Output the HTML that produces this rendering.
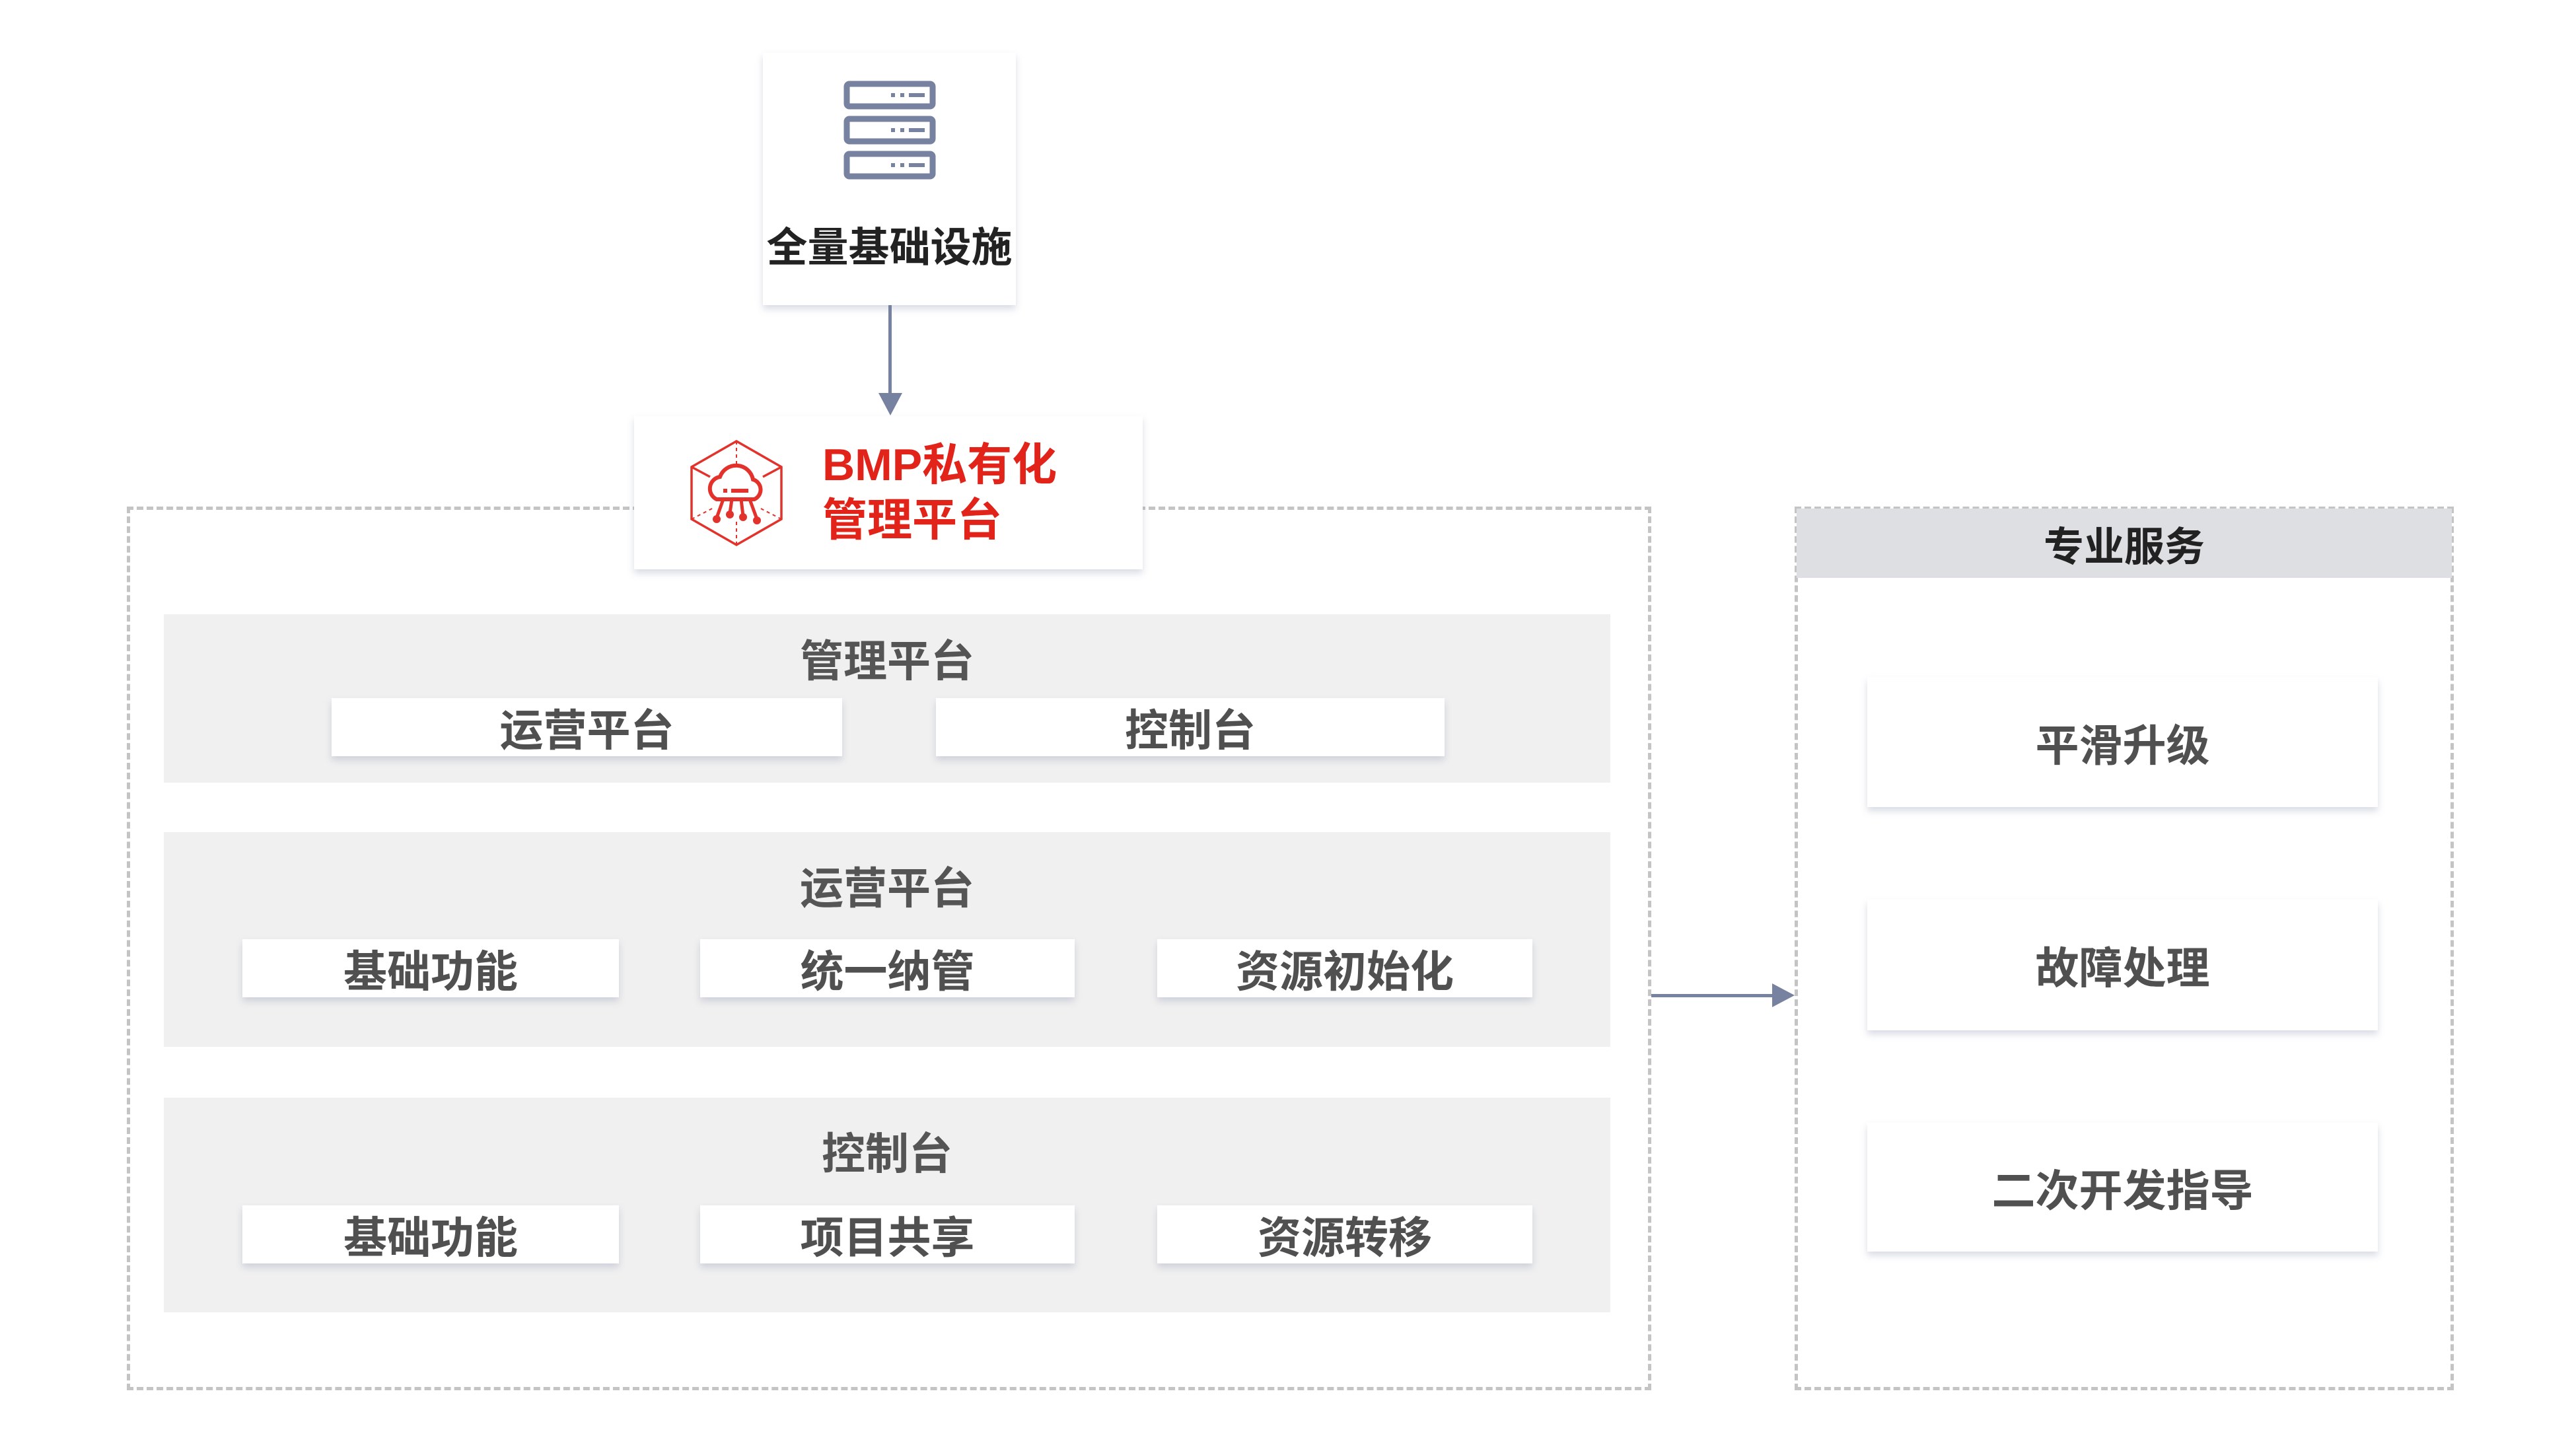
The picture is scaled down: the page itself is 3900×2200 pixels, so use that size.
<!DOCTYPE html>
<html><head><meta charset="utf-8"><style>
*{margin:0;padding:0;box-sizing:border-box}
body{width:3900px;height:2200px;background:#fff;position:relative;overflow:hidden;font-family:"Liberation Sans","Noto Sans CJK SC",sans-serif}
.a{position:absolute}
.card{position:absolute;background:#fff;box-shadow:0 6px 10px rgba(120,130,160,.28);display:flex;align-items:center;justify-content:center;color:#505050;font-size:66px;font-weight:bold}
.band{position:absolute;left:248px;width:2190px;background:#f0f0f0}
.bt{position:absolute;left:0;width:100%;text-align:center;font-size:66px;font-weight:bold;color:#555}
</style></head><body>
<div class="a" style="left:192px;top:767px;width:2308px;height:1338px;border:5px dashed #c4c4c4"></div>
<div class="a" style="left:2717px;top:767px;width:998px;height:1338px;border:5px dashed #c4c4c4"></div>
<div class="a" style="left:2720px;top:770px;width:992px;height:105px;background:#dedfe3;display:flex;align-items:center;justify-content:center;font-size:61px;font-weight:bold;color:#222">专业服务</div>

<div class="card" style="left:1155px;top:80px;width:383px;height:382px;flex-direction:column;justify-content:flex-start;color:#222;font-size:62px">
<svg width="140" height="150" viewBox="0 0 140 150" style="margin-top:42px">
<g fill="none" stroke="#76829f" stroke-width="9">
<rect x="5" y="5" width="130" height="34" rx="4"/><rect x="5" y="58" width="130" height="34" rx="4"/><rect x="5" y="111" width="130" height="34" rx="4"/></g>
<g fill="#76829f"><rect x="72" y="19" width="6" height="6"/><rect x="86" y="19" width="6" height="6"/><rect x="99" y="19" width="24" height="6"/>
<rect x="72" y="72" width="6" height="6"/><rect x="86" y="72" width="6" height="6"/><rect x="99" y="72" width="24" height="6"/>
<rect x="72" y="125" width="6" height="6"/><rect x="86" y="125" width="6" height="6"/><rect x="99" y="125" width="24" height="6"/></g>
</svg>
<div style="margin-top:52px">全量基础设施</div>
</div>
<div class="a" style="left:1345px;top:462px;width:5px;height:135px;background:#76829f"></div>
<svg class="a" style="left:1330px;top:595px" width="36" height="36"><polygon points="0,0 36,0 18,34" fill="#76829f"/></svg>

<div class="card" style="left:960px;top:630px;width:770px;height:232px;justify-content:flex-start">
<svg width="150" height="165" viewBox="0 0 150 165" style="margin-left:80px">
<g fill="none" stroke="#e2322b" stroke-width="3.5">
<polygon points="75,4 143,43 143,122 75,161 7,122 7,43"/>
<g stroke-dasharray="5,5" stroke-width="2"><line x1="75" y1="4" x2="75" y2="40"/><line x1="7" y1="122" x2="40" y2="105"/><line x1="143" y1="122" x2="110" y2="105"/><line x1="75" y1="161" x2="75" y2="125"/></g>
<line x1="7" y1="43" x2="35" y2="58"/><line x1="143" y1="43" x2="115" y2="58"/>
<path d="M45,92 a18,18 0 0 1 5,-34 a26,26 0 0 1 50,4 a16,16 0 0 1 2,30 z" stroke-width="6"/>
<line x1="55" y1="92" x2="45" y2="120" stroke-width="5"/><line x1="68" y1="92" x2="65" y2="113" stroke-width="5"/><line x1="82" y1="92" x2="85" y2="117" stroke-width="5"/><line x1="95" y1="92" x2="106" y2="122" stroke-width="5"/>
</g>
<g fill="#e2322b"><circle cx="45" cy="122" r="6"/><circle cx="65" cy="115" r="6"/><circle cx="85" cy="119" r="6"/><circle cx="106" cy="124" r="6"/><rect x="55" y="76" width="6" height="6"/><rect x="67" y="76" width="26" height="6"/></g>
</svg>
<div style="margin-left:55px;color:#e2231a;font-size:68px;line-height:84px">BMP私有化<br>管理平台</div>
</div>

<div class="band" style="top:930px;height:255px"><div class="bt" style="top:18px">管理平台</div></div>
<div class="card" style="left:502px;top:1057px;width:773px;height:88px">运营平台</div>
<div class="card" style="left:1417px;top:1057px;width:770px;height:88px">控制台</div>

<div class="band" style="top:1260px;height:325px"><div class="bt" style="top:32px">运营平台</div></div>
<div class="card" style="left:367px;top:1422px;width:570px;height:88px">基础功能</div>
<div class="card" style="left:1060px;top:1422px;width:567px;height:88px">统一纳管</div>
<div class="card" style="left:1752px;top:1422px;width:568px;height:88px">资源初始化</div>

<div class="band" style="top:1662px;height:325px"><div class="bt" style="top:32px">控制台</div></div>
<div class="card" style="left:367px;top:1825px;width:570px;height:88px">基础功能</div>
<div class="card" style="left:1060px;top:1825px;width:567px;height:88px">项目共享</div>
<div class="card" style="left:1752px;top:1825px;width:568px;height:88px">资源转移</div>

<div class="a" style="left:2500px;top:1505px;width:185px;height:5px;background:#76829f"></div>
<svg class="a" style="left:2683px;top:1489px" width="36" height="36"><polygon points="0,0 34,18 0,36" fill="#76829f"/></svg>

<div class="card" style="left:2827px;top:1025px;width:773px;height:197px">平滑升级</div>
<div class="card" style="left:2827px;top:1362px;width:773px;height:198px">故障处理</div>
<div class="card" style="left:2827px;top:1700px;width:773px;height:195px">二次开发指导</div>
</body></html>
